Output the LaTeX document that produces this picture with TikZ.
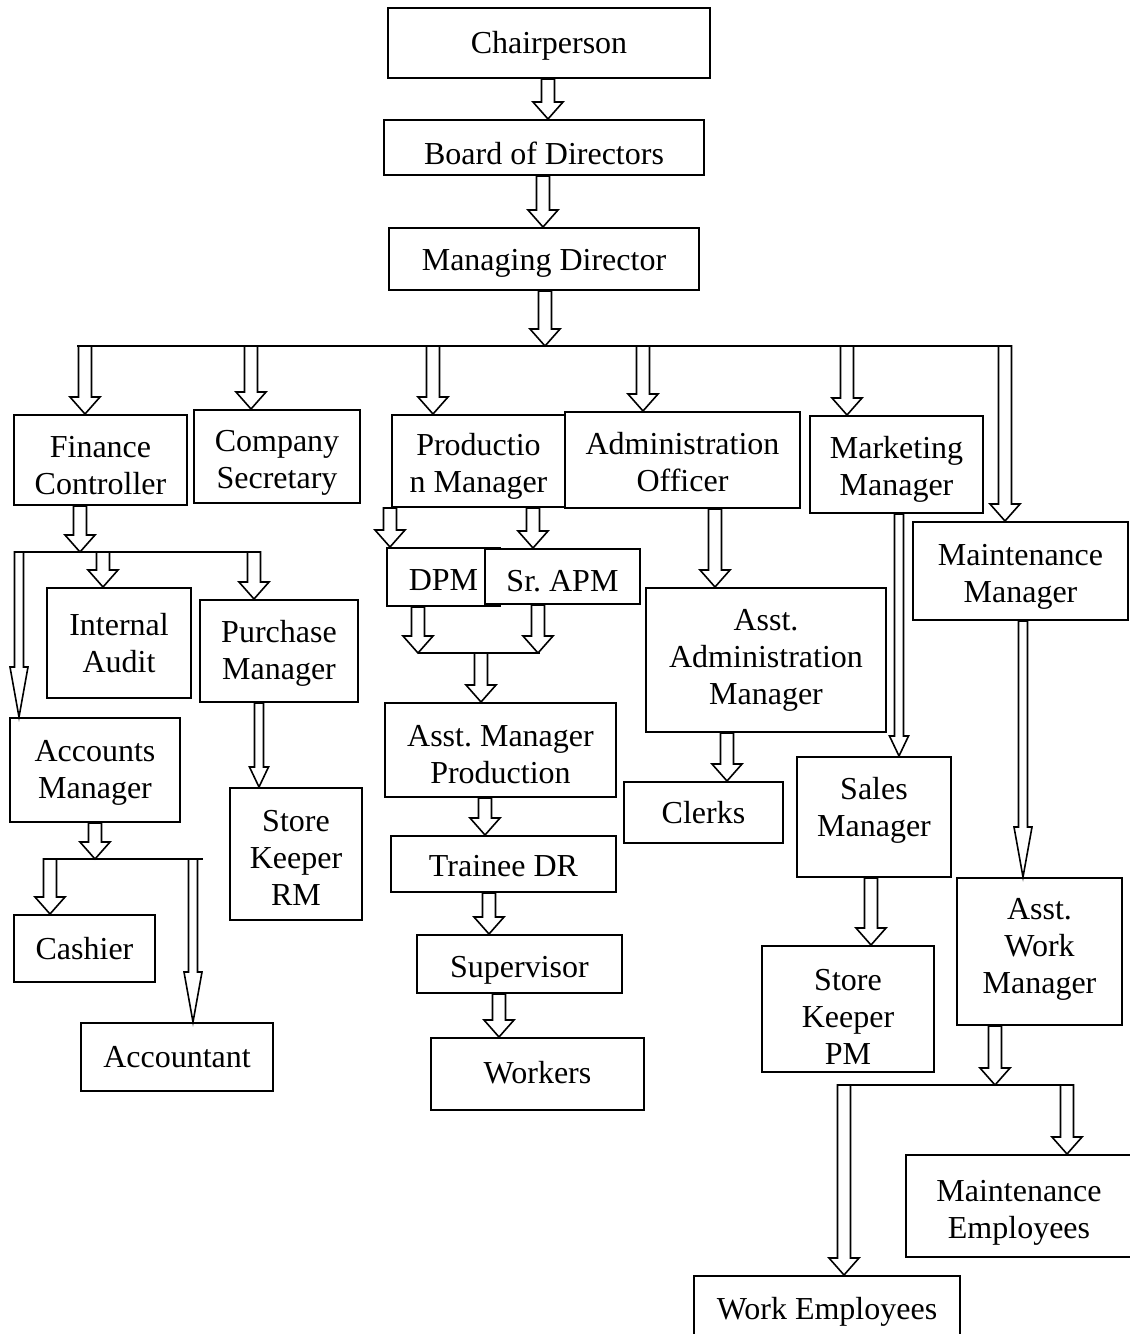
\documentclass[tikz,border=0pt]{standalone}
\usepackage{fontspec}
\setmainfont{Liberation Serif}
\usepackage{tikz}
\usetikzlibrary{calc}
\tikzstyle{post}=[shape=rectangle,draw=black,line width=1pt,fill=white,align=center,inner sep=0pt,font=\fontsize{16}{18.5}\selectfont\frenchspacing]
\tikzstyle{bar}=[draw,line width=1pt]
\tikzset{
  wh/.style 2 args={minimum width=#1*0.5pt,minimum height=#2*0.5pt},
  % text lower by #1 px, node has #2 lines
  tdown/.style 2 args={execute at begin node={\rule{0pt}{\dimexpr 11pt+18.5pt*#2-18.5pt+#1pt\relax}}},
  % text higher: depth below last line
  tup/.style={execute at begin node={\rule[-#1pt]{0pt}{#1pt}}},
  dims/.code n args={3}{\def\asw{#1}\def\ahw{#2}\def\ahl{#3}},
  harrow/.style={draw=black,fill=white,line width=0.8pt,line join=miter,dims={6.5}{15}{17}},
  thin/.style={dims={4.5}{9.5}{20}},
  needle/.style={dims={4.5}{9}{50}}
}
% hollow block arrow: [style]{column}{from}{to}
\newcommand{\hollow}[4][]{%
  \draw[harrow,#1] let \p1=(#3), \p2=(#4) in
    ({#2*0.5pt-\asw*0.5pt},\y1) -- ({#2*0.5pt-\asw*0.5pt},{\y2+\ahl*0.5pt})
    -- ({#2*0.5pt-\ahw*0.5pt},{\y2+\ahl*0.5pt}) -- ({#2*0.5pt},\y2)
    -- ({#2*0.5pt+\ahw*0.5pt},{\y2+\ahl*0.5pt}) -- ({#2*0.5pt+\asw*0.5pt},{\y2+\ahl*0.5pt})
    -- ({#2*0.5pt+\asw*0.5pt},\y1) -- cycle;}

\begin{document}
\begin{tikzpicture}[x=0.5pt,y=-0.5pt]
\useasboundingbox (0,0) rectangle (1130,1334);
\clip (0,0) rectangle (1130,1334);

% top
\node[post,wh={322}{70},tdown={3}{1}] (chair) at (549,43) {Chairperson};
\node[post,wh={320}{55},tdown={6}{1}] (board) at (544,147.5) {Board of Directors};
\node[post,wh={310}{62},tdown={4}{1}] (md) at (544,259) {Managing Director};

% departments
\node[post,wh={173}{90},tdown={5}{2}] (fin) at (100.5,460) {Finance\\Controller};
\node[post,wh={166}{93},tdown={6}{2}] (sec) at (277,456.5) {Company\\Secretary};
\node[post,wh={173}{92},tdown={5}{2}] (prod) at (478.5,461) {Productio\\n Manager};
\node[post,wh={235}{96},tdown={2}{2}] (admin) at (682.5,460) {Administration\\Officer};
\node[post,wh={173}{97},tdown={5}{2}] (mkt) at (896.5,464.5) {Marketing\\Manager};
\node[post,wh={215}{98},tdown={5}{2}] (maint) at (1020.5,571) {Maintenance\\Manager};

% finance
\node[post,wh={144}{110}] (ia) at (119,643) {Internal\\Audit};
\node[post,wh={158}{102},tdown={2}{2}] (pur) at (279,651) {Purchase\\Manager};
\node[post,wh={170}{104},tdown={2}{2}] (acm) at (95,770) {Accounts\\Manager};
\node[post,wh={132}{132},tdown={3}{3}] (skrm) at (296,854) {Store\\Keeper\\RM};
\node[post,wh={141}{67}] (cash) at (84.5,948.5) {Cashier};
\node[post,wh={192}{68}] (acct) at (177,1057) {Accountant};

% production
\node[post,wh={113}{58},tdown={3}{1}] (dpm) at (443.5,577) {DPM};
\node[post,wh={155}{55},tdown={4}{1}] (srapm) at (562.5,576.5) {Sr. APM};
\node[post,wh={231}{94},tdown={4}{2}] (amp) at (500.5,750) {Asst. Manager\\Production};
\node[post,wh={225}{56},tdown={2}{1}] (tdr) at (503.5,864) {Trainee DR};
\node[post,wh={205}{58},tdown={6}{1}] (sup) at (519.5,964) {Supervisor};
\node[post,wh={213}{72},tup=2] (work) at (537.5,1074) {Workers};

% administration
\node[post,wh={240}{144}] (aam) at (766,660) {Asst.\\Administration\\Manager};
\node[post,wh={159}{61}] (clerks) at (703.5,812.5) {Clerks};

% marketing
\node[post,wh={154}{120},tup=10.5] (sales) at (874,817) {Sales\\Manager};
\node[post,wh={172}{126},tdown={7}{3}] (skpm) at (848,1009) {Store\\Keeper\\PM};

% maintenance
\node[post,wh={165}{147},tup=5.5] (awm) at (1039.5,951.5) {Asst.\\Work\\Manager};
\node[post,wh={226}{102},tdown={6}{2}] (me) at (1019,1206) {Maintenance\\Employees};
\node[post,wh={266}{72}] (we) at (827,1312) {Work Employees};

% bars
\coordinate (mbL) at (77,346);
\coordinate (mbR) at (1010,346);
\coordinate (fbL) at (14,552);
\coordinate (fbR) at (260,552);
\coordinate (abL) at (44,859);
\coordinate (abR) at (203,859);
\coordinate (pbL) at (418,653);
\coordinate (pbR) at (540,653);
\coordinate (wbL) at (837,1085);
\coordinate (wbR) at (1073,1085);
\path [bar] (mbL) -- (mbR);
\path [bar] (fbL) -- (fbR);
\path [bar] (abL) -- (abR);
\path [bar] (pbL) -- (pbR);
\path [bar] (wbL) -- (wbR);

%paths
\hollow{548}{chair.south}{board.north}
\hollow{543}{board.south}{md.north}
\hollow{545}{md.south}{mbL}

\hollow{85}{mbL}{fin.north}
\hollow{251}{mbL}{sec.north}
\hollow{433}{mbL}{prod.north}
\hollow{643}{mbL}{admin.north}
\hollow{847}{mbL}{mkt.north}
\hollow{1005}{mbR}{maint.north}

\hollow{80}{fin.south}{fbL}
\hollow[needle]{19}{fbL}{acm.north}
\hollow{103}{fbL}{ia.north}
\hollow{254}{fbL}{pur.north}
\hollow[thin]{259}{pur.south}{skrm.north}
\hollow{95}{acm.south}{abL}
\hollow{50}{abL}{cash.north}
\hollow[needle]{193}{abL}{acct.north}

\hollow{390}{prod.south}{dpm.north}
\hollow{533}{prod.south}{srapm.north}
\hollow{418}{dpm.south}{pbL}
\hollow{538}{srapm.south}{pbL}
\hollow{481}{pbL}{amp.north}
\hollow{485}{amp.south}{tdr.north}
\hollow{489}{tdr.south}{sup.north}
\hollow{499}{sup.south}{work.north}

\hollow{715}{admin.south}{aam.north}
\hollow{727}{aam.south}{clerks.north}

\hollow[thin]{899}{mkt.south}{sales.north}
\hollow{871}{sales.south}{skpm.north}

\hollow[needle]{1023}{maint.south}{awm.north}
\hollow{995}{awm.south}{wbL}
\hollow{844}{wbL}{we.north}
\hollow{1067}{wbL}{me.north}

\end{tikzpicture}
\end{document}
